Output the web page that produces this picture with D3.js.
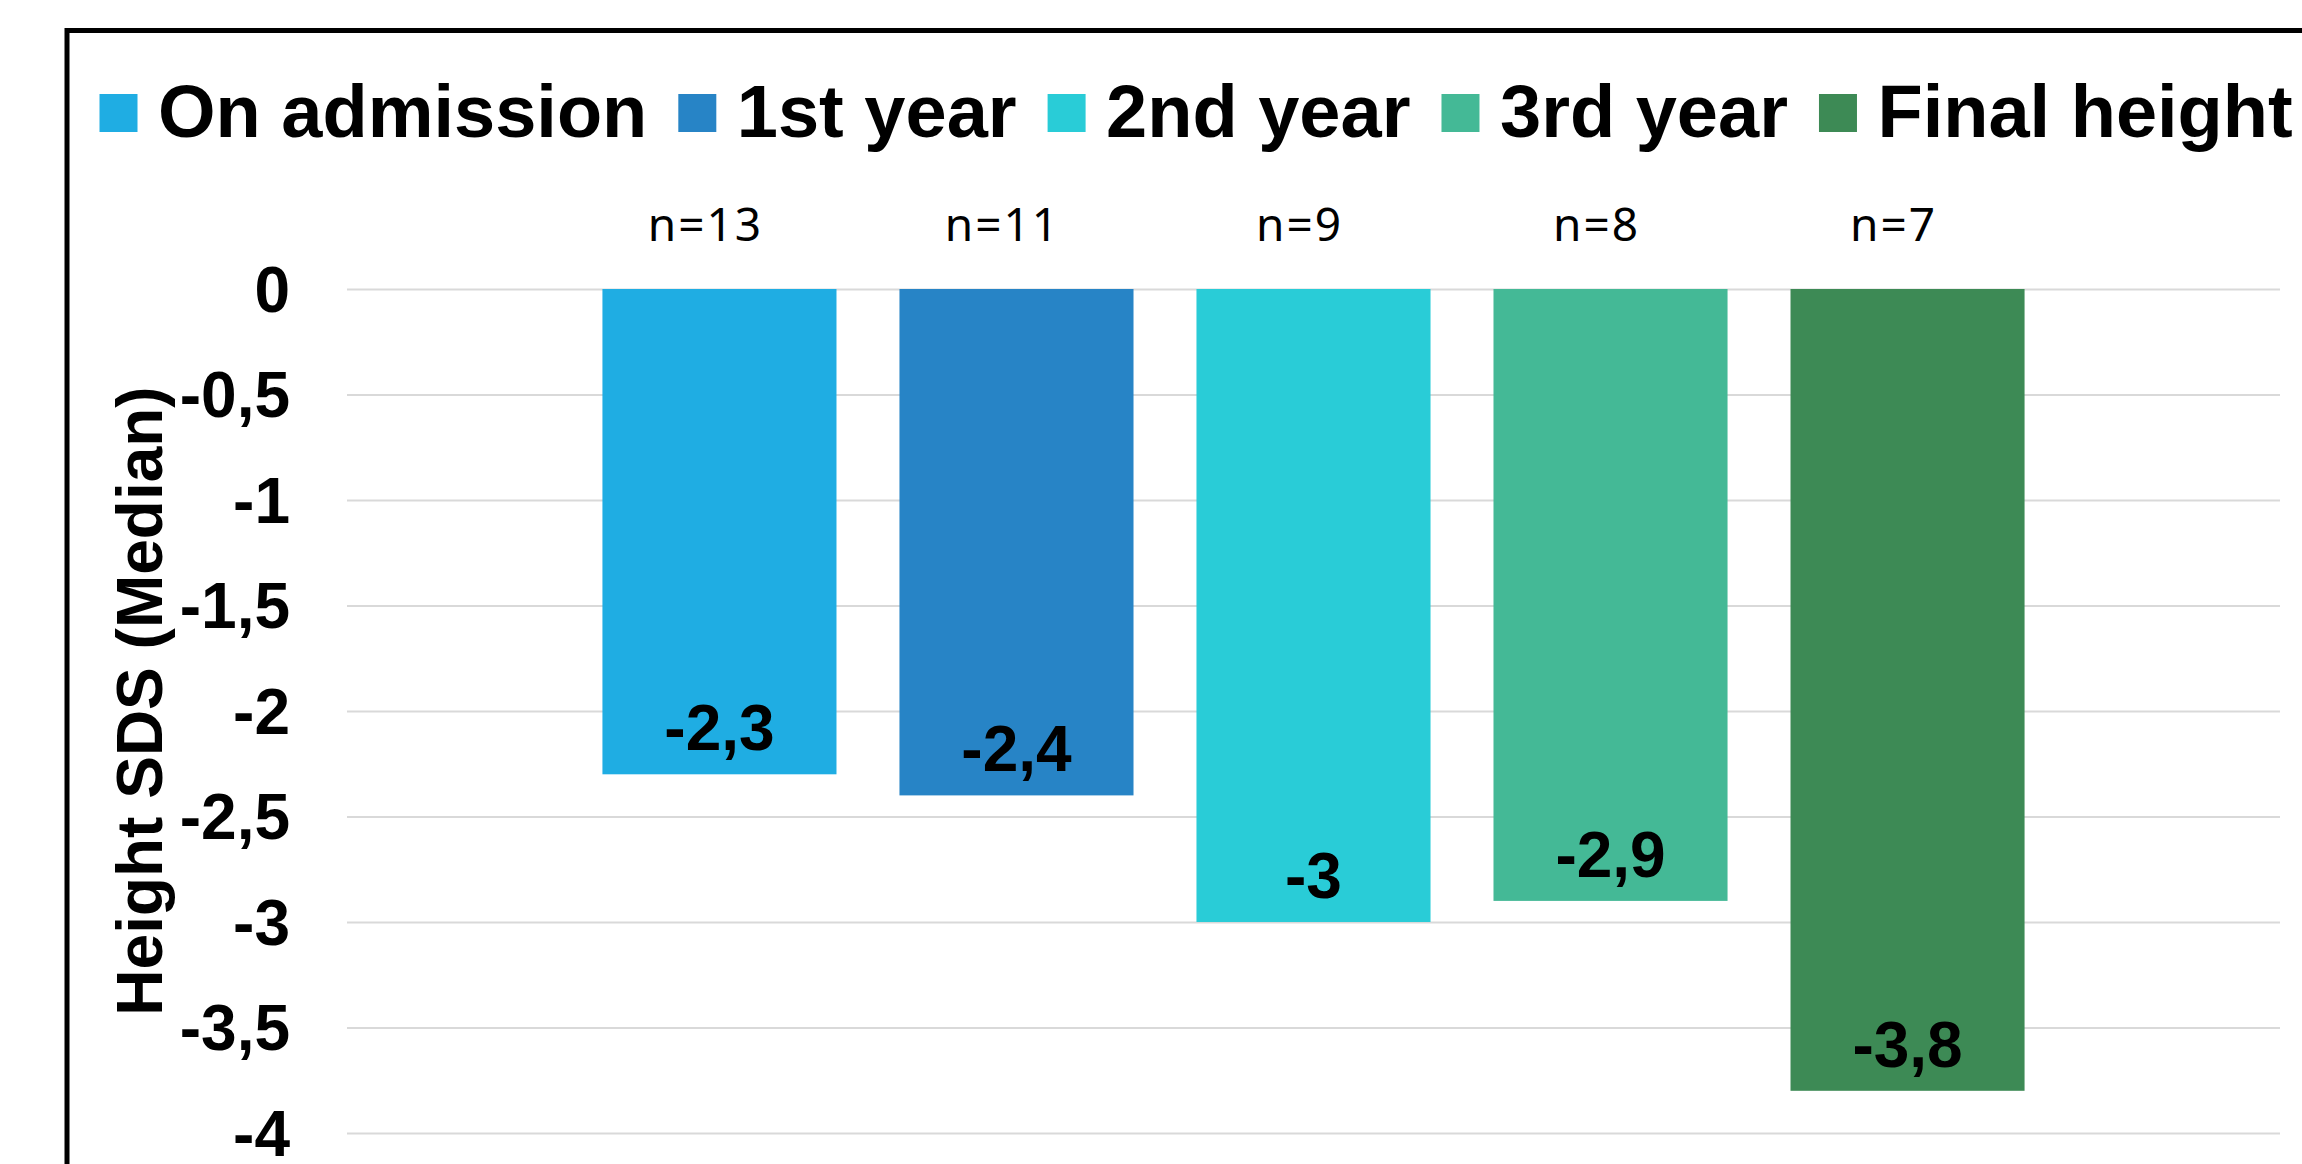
<!DOCTYPE html>
<html><head><meta charset="utf-8">
<script src="https://cdn.jsdelivr.net/npm/d3@7"></script>
<style>html,body{margin:0;padding:0;background:#fff;overflow:hidden}</style>
</head><body>
<svg id="chart" width="2302" height="1164"></svg>
<script>
// ---- data ----
const series = ["On admission", "1st year", "2nd year", "3rd year", "Final height"];
const values = [-2.3, -2.4, -3, -2.9, -3.8];
const nLabels = ["n=13", "n=11", "n=9", "n=8", "n=7"];
const colors = ["#1FADE3", "#2784C6", "#29CCD7", "#44B996", "#3D8A55"];
const tickValues = [0, -0.5, -1, -1.5, -2, -2.5, -3, -3.5, -4];
const tickLabels = ["0", "-0,5", "-1", "-1,5", "-2", "-2,5", "-3", "-3,5", "-4"];
const yTitle = "Height SDS (Median)";

// ---- layout ----
const W = 2302, H = 1164;
const plot = {left: 347, right: 2280, top: 289, bottom: 1133};
const boldFont = "'Liberation Sans', Arial, sans-serif";
const svg = d3.select("#chart");
svg.append("rect").attr("width", W).attr("height", H).attr("fill", "#fff");

const y = d3.scaleLinear().domain([-4, 0]).range([plot.bottom, plot.top]);
const x = d3.scaleBand().domain(series).range([plot.left, plot.right])
  .paddingInner(0.212).paddingOuter(0.86);
const color = d3.scaleOrdinal().domain(series).range(colors);
const fmt = d3.formatLocale({decimal: ",", thousands: ".", grouping: [3], currency: ["", ""], minus: "-"}).format("");

// gridlines
const grid = svg.append("g").attr("transform", `translate(${plot.right},0)`)
  .call(d3.axisLeft(y).tickValues(tickValues).tickSize(plot.right - plot.left).tickFormat(""));
grid.select(".domain").remove();
grid.selectAll(".tick line").attr("stroke", "#d9d9d9").attr("stroke-width", 2);

// y axis labels
const yAxis = svg.append("g").attr("transform", `translate(${plot.left},0)`)
  .call(d3.axisLeft(y).tickValues(tickValues).tickSize(0).tickPadding(57)
    .tickFormat((d, i) => tickLabels[i]));
yAxis.select(".domain").remove();
yAxis.selectAll(".tick text").attr("font-family", boldFont).attr("font-weight", "bold")
  .attr("font-size", 64).attr("fill", "#000").attr("dy", "0.35em");

// bars
const data = series.map((s, i) => ({s, v: values[i], n: nLabels[i]}));
svg.append("g").selectAll("rect").data(data).join("rect")
  .attr("x", d => x(d.s)).attr("width", x.bandwidth())
  .attr("y", y(0)).attr("height", d => y(d.v) - y(0))
  .attr("fill", d => color(d.s));

// value labels
svg.append("g").selectAll("text").data(data).join("text")
  .attr("x", d => x(d.s) + x.bandwidth() / 2).attr("y", d => y(d.v) - 24)
  .attr("text-anchor", "middle").attr("font-family", boldFont).attr("font-weight", "bold")
  .attr("font-size", 64).attr("fill", "#000").text(d => fmt(d.v));

// n labels
svg.append("g").selectAll("text").data(data).join("text")
  .attr("x", d => x(d.s) + x.bandwidth() / 2 - 14).attr("y", 241)
  .attr("text-anchor", "middle").attr("font-family", "'Noto Sans', sans-serif")
  .attr("font-size", 46).attr("letter-spacing", 2).attr("fill", "#000").text(d => d.n);

// y title
svg.append("text").attr("transform", "translate(162,701) rotate(-90)")
  .attr("text-anchor", "middle").attr("font-family", boldFont).attr("font-weight", "bold")
  .attr("font-size", 64).attr("fill", "#000").text(yTitle);

// legend
const legend = svg.append("g");
let lx = 99.5;
series.forEach((s, i) => {
  legend.append("rect").attr("x", lx).attr("y", 94).attr("width", 38).attr("height", 38)
    .attr("fill", color(s));
  const t = legend.append("text").attr("x", lx + 58.5).attr("y", 137)
    .attr("font-family", boldFont).attr("font-weight", "bold").attr("font-size", 74)
    .attr("fill", "#000").text(s);
  lx = lx + 58.5 + t.node().getComputedTextLength() + 31;
});

// chart border
svg.append("rect").attr("x", 67).attr("y", 30.5).attr("width", 2400).attr("height", 1400)
  .attr("fill", "none").attr("stroke", "#000").attr("stroke-width", 5);
</script>
</body></html>
